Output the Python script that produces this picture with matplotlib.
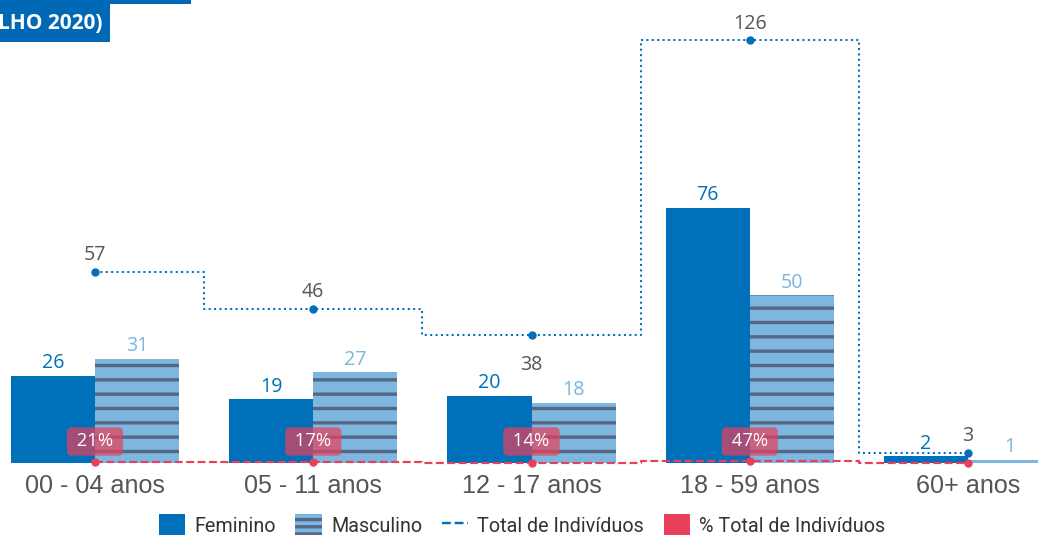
import matplotlib
matplotlib.use('Agg')
import matplotlib.pyplot as plt
from matplotlib.patches import Rectangle, Patch
from matplotlib.lines import Line2D
import numpy as np

# ---- data ----
categories = ['00 - 04 anos', '05 - 11 anos', '12 - 17 anos', '18 - 59 anos', '60+ anos']
feminino = [26, 19, 20, 76, 2]
masculino = [31, 27, 18, 50, 1]
total = [57, 46, 38, 126, 3]
pct_total = [21, 17, 14, 47, 1]
pct_labels = ['21%', '17%', '14%', '47%', '']
legend_labels = ['Feminino', 'Masculino', 'Total de Indivíduos', '% Total de Indivíduos']
title_text = 'LHO 2020)'

# ---- style ----
DPI = 86
W, H = 1038, 538
PX = 72.0 / DPI  # points per pixel
C_FEM = '#0070BA'
C_MAS = '#7DB6DE'
C_STRIPE = '#566685'
C_RED = '#E8405A'
C_TEXT = '#555555'
C_TITLE = '#0068B4'
plt.rcParams['hatch.linewidth'] = 2.8

fig = plt.figure(figsize=(W / DPI, H / DPI), dpi=DPI)
ax = fig.add_axes([0, 75 / H, 1, 463 / H])
x = np.arange(len(categories))
w = 0.386

ax.bar(x - w / 2, feminino, width=w, color=C_FEM, linewidth=0, zorder=2)
ax.bar(x + w / 2, masculino, width=w, color=C_MAS, edgecolor=C_STRIPE,
       hatch='-', linewidth=0, zorder=2)

ax.plot(x, total, drawstyle='steps-mid', linestyle=':', color=C_FEM, lw=1.7,
        marker='o', ms=6, zorder=3, clip_on=False)
ax.plot(x, np.array(pct_total) / 100.0, drawstyle='steps-mid', linestyle='--',
        color=C_RED, lw=1.8, marker='o', ms=6, zorder=4, clip_on=False)

vfont = 'Open Sans'
for i in range(len(categories)):
    ax.annotate(str(feminino[i]), (x[i] - w / 2, feminino[i]), xytext=(0, 7.5 * PX),
                textcoords='offset points', ha='center', va='baseline',
                color=C_FEM, fontsize=16.4, family=vfont, zorder=5)
    ax.annotate(str(masculino[i]), (x[i] + w / 2, masculino[i]), xytext=(0, 7.5 * PX),
                textcoords='offset points', ha='center', va='baseline',
                color=C_MAS, fontsize=16.4, family=vfont, zorder=5)

tot_off = [11.5, 11.5, -35, 11.5, 11.5]
for i in range(len(categories)):
    ax.annotate(str(total[i]), (x[i], total[i]), xytext=(0, tot_off[i] * PX),
                textcoords='offset points', ha='center', va='baseline',
                color=C_TEXT, fontsize=16.4, family=vfont, zorder=5)

for i in range(len(categories)):
    if pct_labels[i]:
        ax.annotate(' ' + pct_labels[i] + ' ', (x[i], 0), xytext=(0, 16.5 * PX),
                    textcoords='offset points', ha='center', va='baseline',
                    color='white', fontsize=15.5, family=vfont, zorder=6,
                    bbox=dict(boxstyle='round,pad=0.28,rounding_size=0.25',
                              fc=C_RED, ec='none', alpha=0.7))

ax.set_xlim(-95 / 218.25, (W - 95) / 218.25)
ax.set_ylim(0, 463 / 3.357)
ax.set_xticks(x)
ax.set_xticklabels(categories, family='Liberation Sans', fontsize=21, color=C_TEXT)
ax.tick_params(axis='x', length=0, pad=11 * PX)
ax.set_yticks([])
for s in ax.spines.values():
    s.set_visible(False)
ax.patch.set_alpha(0)

# legend
handles = [
    Patch(facecolor=C_FEM, linewidth=0),
    Patch(facecolor=C_MAS, edgecolor=C_STRIPE, hatch='--', linewidth=0),
    Line2D([], [], color=C_FEM, ls='--', lw=2),
    Patch(facecolor=C_RED, linewidth=0),
]
fig.legend(handles, legend_labels, loc='center', bbox_to_anchor=(522 / W, (538 - 525) / H),
           ncol=4, frameon=False, prop={'family': 'Roboto', 'size': 16.5},
           labelcolor='#333333', handlelength=1.35, handleheight=1.25,
           handletextpad=0.45, columnspacing=1.0, borderaxespad=0, borderpad=0)

# title box (cropped)
fig.add_artist(Rectangle((0, 1 - 42 / H), 110 / W, 42 / H, transform=fig.transFigure,
                         color=C_TITLE, lw=0))
fig.add_artist(Rectangle((0, 1 - 4 / H), 191 / W, 4 / H, transform=fig.transFigure,
                         color=C_TITLE, lw=0))
fig.text(103 / W, 1 - 29 / H, title_text, ha='right', va='baseline', color='white',
         fontweight='bold', fontsize=17.5, family='Open Sans')

fig.savefig('out.png', dpi=DPI)
